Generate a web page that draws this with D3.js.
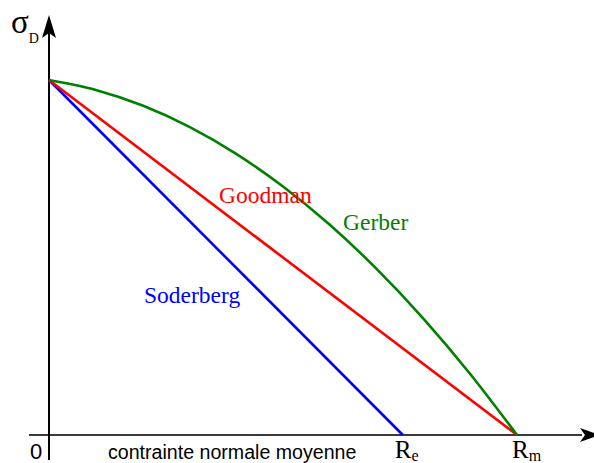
<!DOCTYPE html>
<html>
<head>
<meta charset="utf-8">
<script src="https://cdn.jsdelivr.net/npm/d3@7"></script>
<style>
  html, body { margin: 0; padding: 0; background: #fff; }
  svg { display: block; }
</style>
</head>
<body>
<svg id="chart" width="594" height="463"></svg>
<script>
// Mean stress as a fraction of Rm, alternating stress as a fraction of σD
const yieldRatio = 0.756;          // Re / Rm
const soderbergMean = [0, yieldRatio];
const soderbergAmp  = [1, 0];
const goodmanMean = [0, 1];
const goodmanAmp  = [1, 0];
const gerberMean = [0, 0.1, 0.2, 0.3, 0.4, 0.5, 0.6, 0.7, 0.8, 0.9, 1];
const gerberAmp  = [1, 0.972, 0.928, 0.868, 0.792, 0.700, 0.592, 0.468, 0.328, 0.172, 0];

const seriesNames = ["Soderberg", "Goodman", "Gerber"];
const xLabels = ["R", "e", "R", "m"];

const svg = d3.select("#chart");

const x = d3.scaleLinear().domain([0, 1]).range([49, 517]);
const y = d3.scaleLinear().domain([0, 1]).range([435, 80]);

const serif = "'Liberation Serif', 'Times New Roman', serif";
const sans = "'Liberation Sans', Arial, sans-serif";

// Axes
svg.append("line")
  .attr("x1", 29).attr("x2", 582)
  .attr("y1", y(0)).attr("y2", y(0))
  .attr("stroke", "#3a3a3a").attr("stroke-width", 2);
svg.append("path")
  .attr("d", `M600,${y(0)} L580,${y(0) - 7} L585,${y(0)} L580,${y(0) + 7} Z`)
  .attr("fill", "#000");

svg.append("line")
  .attr("x1", x(0)).attr("x2", x(0))
  .attr("y1", 460).attr("y2", 30)
  .attr("stroke", "#000").attr("stroke-width", 2);
svg.append("path")
  .attr("d", `M${x(0)},15 L${x(0) + 7},38 L${x(0)},33 L${x(0) - 7},38 Z`)
  .attr("fill", "#000");

// Curves
const line = d3.line()
  .x(d => x(d[0]))
  .y(d => y(d[1]));

const curves = [
  { mean: soderbergMean, amp: soderbergAmp, color: "#0000ff", curve: d3.curveLinear },
  { mean: goodmanMean, amp: goodmanAmp, color: "#ff0000", curve: d3.curveLinear },
  { mean: gerberMean, amp: gerberAmp, color: "#008000", curve: d3.curveMonotoneX }
];

curves.forEach(c => {
  svg.append("path")
    .datum(d3.zip(c.mean, c.amp))
    .attr("fill", "none")
    .attr("stroke", c.color)
    .attr("stroke-width", 2.6)
    .attr("stroke-linejoin", "round")
    .attr("d", line.curve(c.curve));
});

// Curve labels
const labelPos = [
  { x: 144, y: 303, color: "#0000ff" },
  { x: 219, y: 203, color: "#ff0000" },
  { x: 343, y: 230, color: "#008000" }
];
seriesNames.forEach((name, i) => {
  svg.append("text")
    .attr("x", labelPos[i].x).attr("y", labelPos[i].y)
    .attr("fill", labelPos[i].color)
    .attr("font-family", serif)
    .attr("font-size", 23.5)
    .text(name);
});

// Vertical axis title σD
const yTitle = svg.append("text")
  .attr("x", 11).attr("y", 33)
  .attr("font-family", serif)
  .attr("fill", "#000");
yTitle.append("tspan").attr("font-size", 33).text("σ");
yTitle.append("tspan").attr("font-size", 14).attr("dy", 10).text("D");

// Horizontal axis labels
svg.append("text")
  .attr("x", 30).attr("y", 459)
  .attr("font-family", sans).attr("font-size", 22)
  .attr("fill", "#000")
  .text("0");

svg.append("text")
  .attr("x", 108).attr("y", 459)
  .attr("font-family", sans).attr("font-size", 19.6)
  .attr("fill", "#000")
  .text("contrainte normale moyenne");

const reLabel = svg.append("text")
  .attr("x", x(yieldRatio) - 8).attr("y", 458)
  .attr("font-family", serif).attr("fill", "#000");
reLabel.append("tspan").attr("font-size", 25).text(xLabels[0]);
reLabel.append("tspan").attr("font-size", 16).attr("dy", 3).text(xLabels[1]);

const rmLabel = svg.append("text")
  .attr("x", x(1) - 5).attr("y", 458)
  .attr("font-family", serif).attr("fill", "#000");
rmLabel.append("tspan").attr("font-size", 25).text(xLabels[2]);
rmLabel.append("tspan").attr("font-size", 16).attr("dy", 3).text(xLabels[3]);
</script>
</body>
</html>
